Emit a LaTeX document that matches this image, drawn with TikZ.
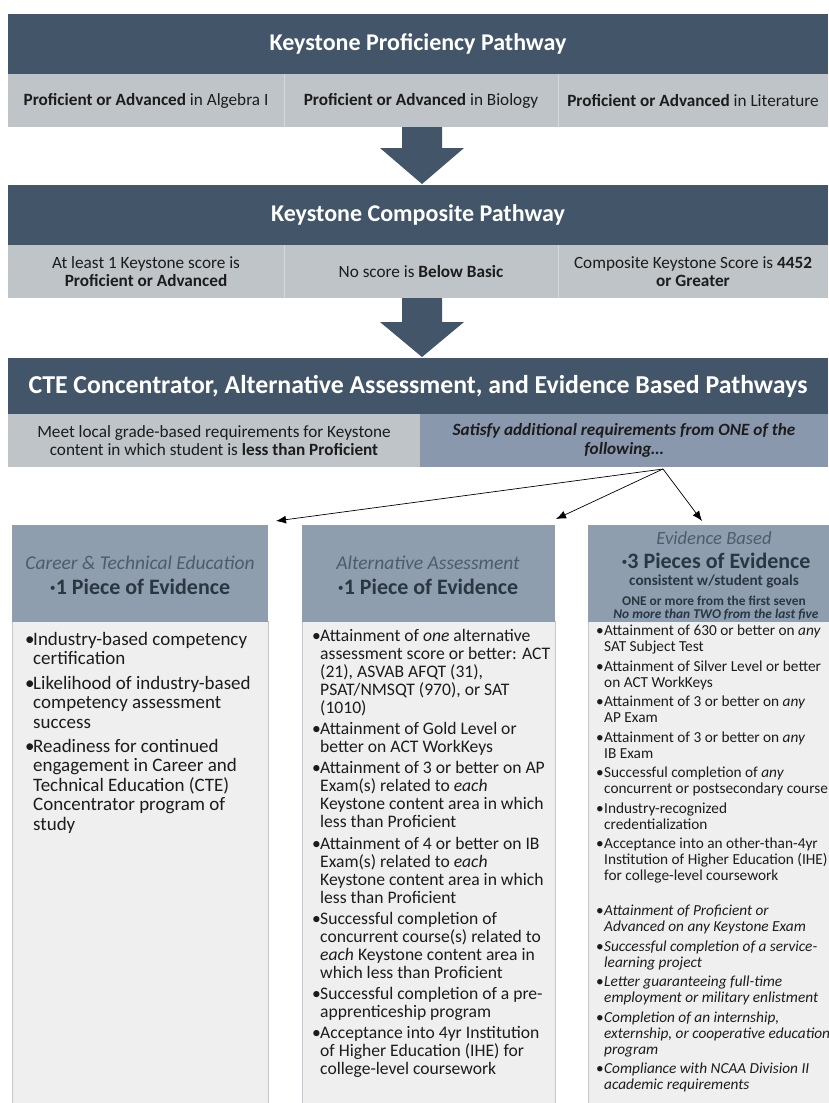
\documentclass[tikz,border=0pt]{standalone}
\usepackage{fontspec}
\setmainfont{Carlito}
\usetikzlibrary{arrows.meta}
\definecolor{hdr}{RGB}{67,86,105}
\definecolor{rowg}{RGB}{191,196,200}
\definecolor{rowb}{RGB}{137,152,173}
\definecolor{colh}{RGB}{142,158,174}
\definecolor{bodyc}{RGB}{239,239,239}
\definecolor{bodyline}{RGB}{196,200,204}
\definecolor{divc}{RGB}{212,216,220}
\definecolor{ink}{RGB}{28,28,28}
\definecolor{subit}{RGB}{78,92,106}
\definecolor{pieces}{RGB}{42,54,66}
\newlength\bw
\newcommand\bul{\makebox[\bw][l]{\textup{•}}}
\newcommand\cont{\hspace*{\bw}}
\begin{document}
\begin{tikzpicture}[x=1pt,y=-1pt,
  hdrbox/.style={fill=hdr,text=white,inner sep=0pt,outer sep=0pt,anchor=north west,font=\fontsize{24}{27}\selectfont\bfseries},
  rowcell/.style={fill=rowg,text=ink,inner sep=0pt,outer sep=0pt,anchor=north west,align=center,minimum height=53pt,font=\fontsize{17.2}{18.6}\selectfont},
  divider/.style={draw=divc,line width=1pt},
  blockarrow/.style={fill=hdr},
  thinarrow/.style={draw=black,line width=0.7pt,-{Latex[length=10pt,width=8pt]}},
  colhead/.style={fill=colh,inner sep=0pt,outer sep=0pt,anchor=north west,minimum height=97pt},
  colbody/.style={fill=bodyc,draw=bodyline,line width=1pt,inner sep=0pt,outer sep=0pt,anchor=north west,minimum height=500pt},
  colit/.style={text=subit,inner sep=0pt,font=\fontsize{19.5}{21}\selectfont\itshape},
  colbig/.style={text=pieces,inner sep=0pt,font=\fontsize{22}{24}\selectfont\bfseries},
  colsmall/.style={text=pieces,inner sep=0pt,font=\fontsize{13.4}{15}\selectfont\bfseries},
  bodytxt/.style={text=ink,inner sep=0pt,anchor=north west,align=left}
]
\useasboundingbox (0,0) rectangle (828,1103);
\fill[white] (0,0) rectangle (828,1103);

% --- Keystone Proficiency Pathway
\node[hdrbox,minimum width=820pt,minimum height=60pt] (h1) at (8,14) {Keystone Proficiency Pathway};
\node[rowcell,minimum width=276pt] (r1a) at (8,74) {\textbf{Proficient or Advanced} in Algebra I};
\node[rowcell,minimum width=274pt] (r1b) at (284,74) {\textbf{Proficient or Advanced} in Biology};
\node[rowcell,minimum width=270pt] (r1c) at (558,74) {\textbf{Proficient or Advanced} in Literature};
\draw[divider] (r1a.north east) -- (r1a.south east);
\draw[divider] (r1b.north east) -- (r1b.south east);

\coordinate (a1s) at (422,127);
\coordinate (a1t) at (422,184);
\fill[blockarrow] (a1s) ++(-20,0) -- ++(0,21) -- ++(-22,0) -- (a1t) -- ++(42,-36) -- ++(-22,0) -- ++(0,-21) -- cycle;

% --- Keystone Composite Pathway
\node[hdrbox,minimum width=820pt,minimum height=60pt] (h2) at (8,185) {Keystone Composite Pathway};
\node[rowcell,minimum width=276pt] (r2a) at (8,245) {At least 1 Keystone score is\\\textbf{Proficient or Advanced}};
\node[rowcell,minimum width=274pt] (r2b) at (284,245) {No score is \textbf{Below Basic}};
\node[rowcell,minimum width=270pt] (r2c) at (558,245) {Composite Keystone Score is \textbf{4452}\\\textbf{or Greater}};
\draw[divider] (r2a.north east) -- (r2a.south east);
\draw[divider] (r2b.north east) -- (r2b.south east);

\coordinate (a2s) at (422,298);
\coordinate (a2t) at (422,357);
\fill[blockarrow] (a2s) ++(-20,0) -- ++(0,24) -- ++(-22,0) -- (a2t) -- ++(42,-35) -- ++(-22,0) -- ++(0,-24) -- cycle;

% --- CTE etc.
\node[hdrbox,minimum width=820pt,minimum height=56pt,font=\fontsize{25.8}{28}\selectfont\bfseries] (h3) at (8,358) {CTE Concentrator, Alternative Assessment, and Evidence Based Pathways};
\node[rowcell,minimum width=412pt] (r3a) at (8,414) {Meet local grade-based requirements for Keystone\\content in which student is \textbf{less than Proficient}};
\node[rowcell,minimum width=408pt,fill=rowb] (r3b) at (420,414) {\textbf{\textit{Satisfy additional requirements from ONE of the}}\\\textbf{\textit{following…}}};

\coordinate (sp) at (663,469);
\coordinate (t1) at (276,521);
\coordinate (t2) at (556,519);
\coordinate (t3) at (702,521);
\draw[thinarrow] (sp) -- (t1);
\draw[thinarrow] (sp) -- (t2);
\draw[thinarrow] (sp) -- (t3);

% --- columns
\node[colbody,minimum width=256pt] (b1) at (12,621) {};
\node[colbody,minimum width=253pt] (b2) at (302,621) {};
\node[colbody,minimum width=250pt] (b3) at (588,621) {};
\node[colhead,minimum width=256pt] (c1) at (12,525) {};
\node[colhead,minimum width=253pt] (c2) at (302,525) {};
\node[colhead,minimum width=250pt] (c3) at (588,525) {};

\node[colit] (c1a) at (140,563) {Career \& Technical Education};
\node[colbig] (c1b) at (140,587) {·1 Piece of Evidence};
\node[colit] (c2a) at (428,563) {Alternative Assessment};
\node[colbig] (c2b) at (428,587) {·1 Piece of Evidence};
\node[colit,font=\fontsize{18.6}{20}\selectfont\itshape] (c3a) at (714,538) {Evidence Based};
\node[colbig] (c3b) at (716,561) {·3 Pieces of Evidence};
\node[colsmall,font=\fontsize{15.2}{17}\selectfont\bfseries] (c3c) at (714,581) {consistent w/student goals};
\node[colsmall] (c3d) at (714,601) {ONE or more from the first seven};
\node[colsmall,font=\fontsize{13.4}{15}\selectfont\bfseries\itshape] (c3e) at (716,615) {No more than TWO from the last five};

% --- column texts
\node[bodytxt,font={\fontsize{19}{19.4}\selectfont\setlength\bw{8pt}}] (t1txt) at (25,632) {%
\bul Industry-based competency\\
\cont certification\\[5pt]
\bul Likelihood of industry-based\\
\cont competency assessment\\
\cont success\\[5pt]
\bul Readiness for continued\\
\cont engagement in Career and\\
\cont Technical Education (CTE)\\
\cont Concentrator program of\\
\cont study};

\node[bodytxt,font={\fontsize{17.6}{18}\selectfont\setlength\bw{8pt}}] (t2txt) at (312,629) {%
\bul Attainment of \textit{one} alternative\\
\cont assessment score or better: ACT\\
\cont (21), ASVAB AFQT (31),\\
\cont PSAT/NMSQT (970), or SAT\\
\cont (1010)\\[3.2pt]
\bul Attainment of Gold Level or\\
\cont better on ACT WorkKeys\\[3.2pt]
\bul Attainment of 3 or better on AP\\
\cont Exam(s) related to \textit{each}\\
\cont Keystone content area in which\\
\cont less than Proficient\\[3.2pt]
\bul Attainment of 4 or better on IB\\
\cont Exam(s) related to \textit{each}\\
\cont Keystone content area in which\\
\cont less than Proficient\\[3.2pt]
\bul Successful completion of\\
\cont concurrent course(s) related to\\
\cont \textit{each} Keystone content area in\\
\cont which less than Proficient\\[3.2pt]
\bul Successful completion of a pre-\\
\cont apprenticeship program\\[3.2pt]
\bul Acceptance into 4yr Institution\\
\cont of Higher Education (IHE) for\\
\cont college-level coursework};

\node[bodytxt,font={\fontsize{15.3}{16}\selectfont\setlength\bw{8pt}}] (t3txt) at (596,625) {%
\bul Attainment of 630 or better on \textit{any}\\
\cont SAT Subject Test\\[3.5pt]
\bul Attainment of Silver Level or better\\
\cont on ACT WorkKeys\\[3.5pt]
\bul Attainment of 3 or better on \textit{any}\\
\cont AP Exam\\[3.5pt]
\bul Attainment of 3 or better on \textit{any}\\
\cont IB Exam\\[3.5pt]
\bul Successful completion of \textit{any}\\
\cont concurrent or postsecondary course\\[3.5pt]
\bul Industry-recognized\\
\cont credentialization\\[3.5pt]
\bul Acceptance into an other-than-4yr\\
\cont Institution of Higher Education (IHE)\\
\cont for college-level coursework\\[19pt]
\bul \textit{Attainment of Proficient or}\\
\cont \textit{Advanced on any Keystone Exam}\\[3.5pt]
\bul \textit{Successful completion of a service-}\\
\cont \textit{learning project}\\[3.5pt]
\bul \textit{Letter guaranteeing full-time}\\
\cont \textit{employment or military enlistment}\\[3.5pt]
\bul \textit{Completion of an internship,}\\
\cont \textit{externship, or cooperative education}\\
\cont \textit{program}\\[3.5pt]
\bul \textit{Compliance with NCAA Division II}\\
\cont \textit{academic requirements}};
\end{tikzpicture}
\end{document}
